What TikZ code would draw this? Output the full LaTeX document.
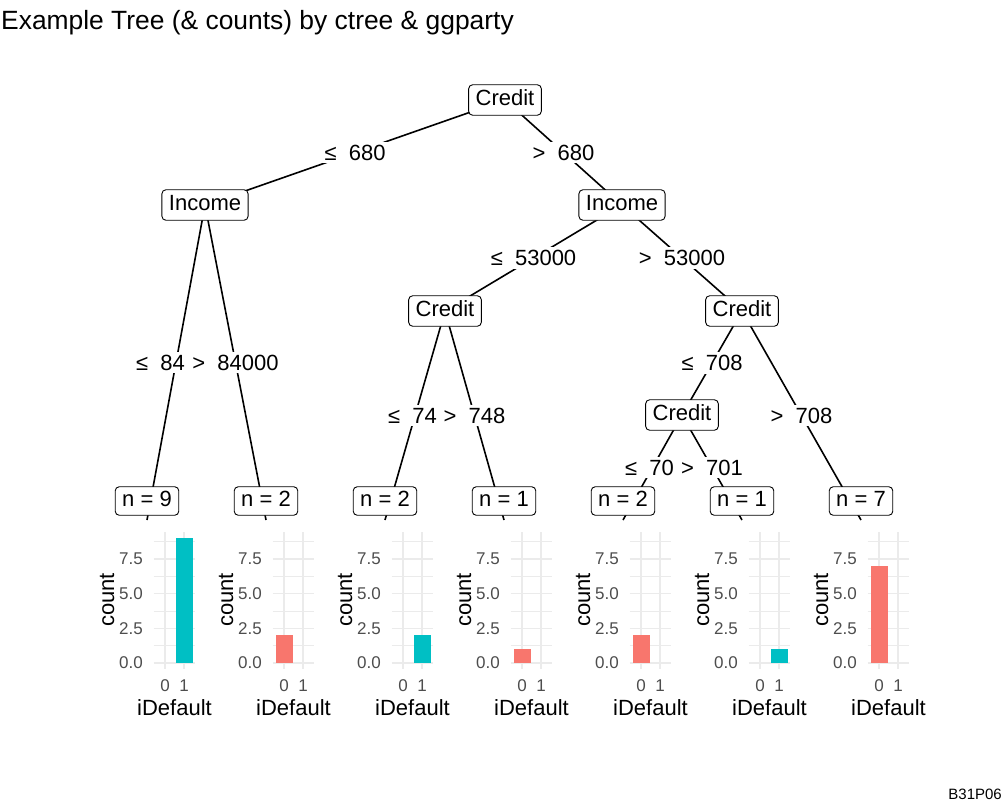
\documentclass[tikz,border=0pt]{standalone}
\usepackage{fontspec}
\setmainfont{Liberation Sans}
\usetikzlibrary{backgrounds}
\definecolor{barTeal}{HTML}{00BFC4}
\definecolor{barSalmon}{HTML}{F8766D}
\definecolor{gridGrey}{HTML}{EBEBEB}
\definecolor{tickGrey}{HTML}{4D4D4D}

\tikzset{
  splitnode/.style={draw, rounded corners=4pt, fill=white, line width=0.9pt, inner xsep=7pt, inner ysep=5pt,
    text height=16pt, text depth=4.5pt, font=\fontsize{22}{26}\selectfont},
  leafnode/.style={splitnode, inner ysep=4pt},
  edgelabel/.style={fill=white, inner xsep=4pt, inner ysep=3pt, text height=15.8pt, text depth=0pt,
    font=\fontsize{22}{26}\selectfont},
  edge/.style={line width=1.6pt},
  gridmajor/.style={gridGrey, line width=1.4pt},
  gridminor/.style={gridGrey, line width=0.7pt},
  ticklabel/.style={text=tickGrey, inner sep=0pt, font=\fontsize{17}{20}\selectfont},
  axistitle/.style={inner sep=0pt, font=\fontsize{22}{26}\selectfont}
}

\begin{document}
\begin{tikzpicture}[x=1pt, y=-1pt]
  \useasboundingbox (0,0) rectangle (1008,806);

  \node[anchor=base west, inner sep=0pt, font=\fontsize{26.4}{30}\selectfont] (title) at (1,29)
    {Example Tree (\& counts) by ctree \& ggparty};
  \node[anchor=base east, inner sep=0pt, font=\fontsize{15}{18}\selectfont] (tag) at (1002,799) {B31P06};

  % split nodes
  \node[splitnode] (root) at (505,100) {Credit};
  \node[splitnode] (incomeL) at (205,205) {Income};
  \node[splitnode] (incomeR) at (622,205) {Income};
  \node[splitnode] (creditL) at (445,311) {Credit};
  \node[splitnode] (creditR) at (742,311) {Credit};
  \node[splitnode] (creditM) at (682,415) {Credit};

  % terminal nodes
  \foreach \cx/\n [count=\k] in {147/9, 266/2, 385/2, 504/1, 623/2, 742/1, 861/7} {
    \coordinate (t\k) at (\cx,520);
    \node[leafnode] (n\k) at (\cx,501) {n = \n};
  }

  % edges and split labels
  \begin{pgfonlayer}{background}
    \draw[edge] (root.center) -- node[edgelabel] (l1) {≤\ \ 680} (incomeL.center);
    \draw[edge] (root.center) -- node[edgelabel] (l2) {>\ \ 680} (incomeR.center);
    \draw[edge] (incomeL.center) -- (t1);
    \node[edgelabel, anchor=west] (l3) at (132,362.5) {≤\ \ 84};
    \draw[edge] (incomeL.center) -- node[edgelabel] (l4) {>\ \ 84000} (t2);
    \draw[edge] (incomeR.center) -- node[edgelabel] (l5) {≤\ \ 53000} (creditL.center);
    \draw[edge] (incomeR.center) -- node[edgelabel] (l6) {>\ \ 53000} (creditR.center);
    \draw[edge] (creditL.center) -- (t3);
    \node[edgelabel, anchor=west] (l7) at (384,415.5) {≤\ \ 74};
    \draw[edge] (creditL.center) -- node[edgelabel] (l8) {>\ \ 748} (t4);
    \draw[edge] (creditR.center) -- node[edgelabel] (l9) {≤\ \ 708} (creditM.center);
    \draw[edge] (creditR.center) -- node[edgelabel] (l10) {>\ \ 708} (t7);
    \draw[edge] (creditM.center) -- (t5);
    \node[edgelabel, anchor=west] (l11) at (621,467.5) {≤\ \ 70};
    \draw[edge] (creditM.center) -- node[edgelabel] (l12) {>\ \ 701} (t6);
  \end{pgfonlayer}

  % count panels
  \foreach \cx/\bx/\cnt/\col [count=\p] in {147/1/9/barTeal, 266/0/2/barSalmon, 385/1/2/barTeal,
      504/0/1/barSalmon, 623/0/2/barSalmon, 742/1/1/barTeal, 861/0/7/barSalmon} {
    \foreach \v in {1.25,3.75,6.25,8.75}
      \draw[gridminor] ({\cx+6.6},{663-13.87*\v}) -- ({\cx+48.4},{663-13.87*\v});
    \foreach \v/\lab [count=\i] in {0/0.0, 2.5/2.5, 5/5.0, 7.5/7.5} {
      \draw[gridmajor] ({\cx+6.6},{663-13.87*\v}) -- ({\cx+48.4},{663-13.87*\v});
      \node[ticklabel, anchor=east] (ytick\p-\i) at ({\cx-4},{663-13.87*\v}) {\lab};
    }
    \foreach \t in {0,1} {
      \draw[gridmajor] ({\cx+18+19*\t},532) -- ({\cx+18+19*\t},669);
      \node[ticklabel] (xtick\p-\t) at ({\cx+18+19*\t},686) {\t};
    }
    \fill[\col] ({\cx+18+19*\bx-8.5},663) rectangle ({\cx+18+19*\bx+8.5},{663-13.87*\cnt});
    \node[axistitle, rotate=90] (ytitle\p) at ({\cx-40},600) {count};
    \node[axistitle] (xtitle\p) at ({\cx+27.5},708) {iDefault};
  }
\end{tikzpicture}
\end{document}
